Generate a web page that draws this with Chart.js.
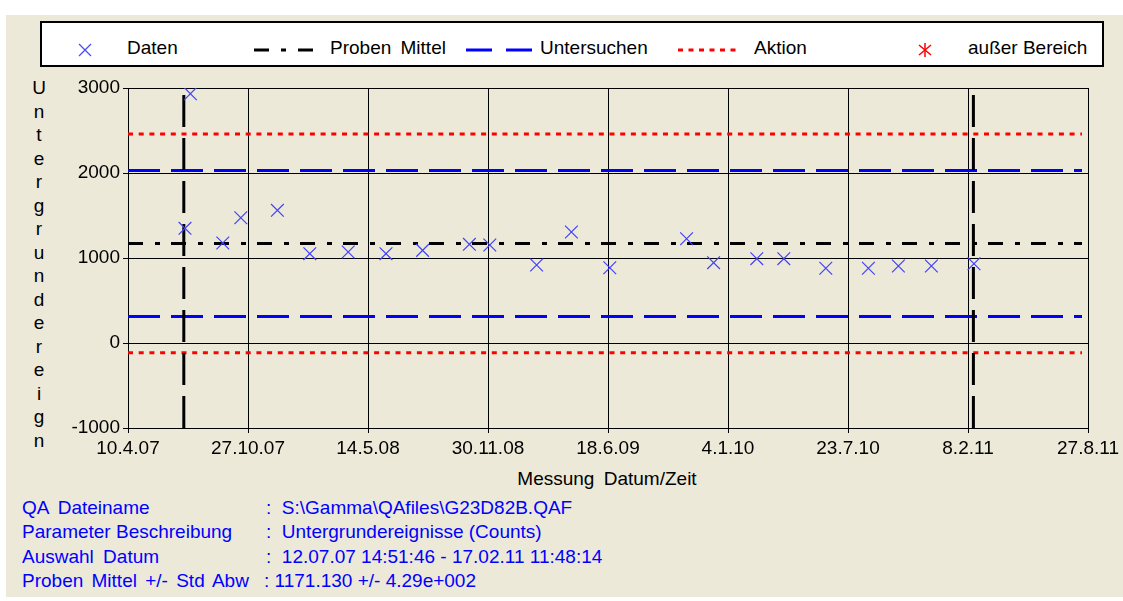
<!DOCTYPE html>
<html lang="de">
<head>
<meta charset="UTF-8">
<title>Untergrundereignisse</title>
<script src="https://cdn.jsdelivr.net/npm/chart.js"></script>
<style>
  body { margin: 0; background: #fff; font-family: "Liberation Sans", Arial, sans-serif; }
  #page { position: absolute; left: 6px; top: 15px; width: 1117px; height: 582px; background: #ece9d8; }
  #chart { position: absolute; left: 0; top: 0; }
  .txt { position: absolute; white-space: nowrap; color: #000; }
  #legend { position: absolute; left: 40px; top: 21px; width: 1060px; height: 42px; background: #fff; border: 2px solid #000; }
  #legend .txt { font-size: 19px; top: 14px; }
  #legend svg { position: absolute; left: 0; top: 0; }
  #ytitle { position: absolute; left: 28px; top: 76px; width: 22px; text-align: center; font-size: 19px; line-height: 23.5px; }
  #xtitle { font-size: 19px; left: 0; width: 1214px; text-align: center; top: 468px; word-spacing: 4px; }
  .info { position: absolute; left: 22px; font-size: 19px; color: #0000ff; white-space: nowrap; }
  .info span { display: inline-block; min-width: 244px; }
</style>
</head>
<body>
<div id="page"></div>

<div id="legend">
  <svg width="1064" height="46">
    <line x1="37" y1="21" x2="49" y2="33" stroke="#4a4aff" stroke-width="1.2"/>
    <line x1="49" y1="21" x2="37" y2="33" stroke="#4a4aff" stroke-width="1.2"/>
    <line x1="212" y1="27" x2="272" y2="27" stroke="#000" stroke-width="3" stroke-dasharray="15 12 5 12"/>
    <line x1="424" y1="27" x2="490" y2="27" stroke="#0000ff" stroke-width="3" stroke-dasharray="26 14"/>
    <line x1="636" y1="27" x2="698" y2="27" stroke="#ff0000" stroke-width="3" stroke-dasharray="5 5.5"/>
    <line x1="883" y1="20" x2="883" y2="34" stroke="#ff0000" stroke-width="1.5"/>
    <line x1="877" y1="22" x2="889" y2="32" stroke="#ff0000" stroke-width="1.5"/>
    <line x1="889" y1="22" x2="877" y2="32" stroke="#ff0000" stroke-width="1.5"/>
  </svg>
  <div class="txt" style="left:85px">Daten</div>
  <div class="txt" style="left:288px; word-spacing:4px">Proben Mittel</div>
  <div class="txt" style="left:498px">Untersuchen</div>
  <div class="txt" style="left:712px">Aktion</div>
  <div class="txt" style="left:926px">außer Bereich</div>
</div>

<div id="ytitle">U<br>n<br>t<br>e<br>r<br>g<br>r<br>u<br>n<br>d<br>e<br>r<br>e<br>i<br>g<br>n</div>
<div id="xtitle" class="txt">Messung Datum/Zeit</div>

<div class="info" style="top:497px"><span style="word-spacing:4px">QA Dateiname</span>: &nbsp;S:\Gamma\QAfiles\G23D82B.QAF</div>
<div class="info" style="top:521px"><span>Parameter Beschreibung</span>: &nbsp;Untergrundereignisse (Counts)</div>
<div class="info" style="top:546px"><span style="word-spacing:4px">Auswahl Datum</span>: &nbsp;12.07.07 14:51:46 - 17.02.11 11:48:14</div>
<div class="info" style="top:570px"><span style="min-width:242px; word-spacing:3px">Proben Mittel +/- Std Abw</span>: 1171.130 +/- 4.29e+002</div>

<canvas id="chart" width="1123" height="601"></canvas>

<script>
  // Achsenbeschriftung (Tage ab 10.4.07, alle 200 Tage)
  const tickLabels = ['10.4.07', '27.10.07', '14.5.08', '30.11.08', '18.6.09', '4.1.10', '23.7.10', '8.2.11', '27.8.11'];

  // Messungen: Tag ab 10.4.07 und Untergrundereignisse
  const messTage = [95, 104, 158, 188, 249, 303, 367, 430, 491, 569, 603, 681, 739, 803, 931, 976, 1048, 1093, 1163, 1234, 1284, 1339, 1410];
  const messWerte = [1349, 2933, 1176, 1474, 1561, 1051, 1071, 1051, 1090, 1161, 1153, 918, 1306, 886, 1227, 945, 992, 992, 879, 879, 906, 906, 933];

  // Grenzen
  const probenMittel = 1171.13;
  const untersuchen = [313, 2029];
  const aktion = [-116, 2458];
  const auswahlTage = [93, 1409];
  const linienEnde = 1590;

  const punkte = messTage.map((t, i) => ({ x: t, y: messWerte[i] }));

  function hLinie(y) {
    return [{ x: 0, y: y }, { x: linienEnde, y: y }];
  }
  function vLinie(x) {
    return [{ x: x, y: -1000 }, { x: x, y: 3000 }];
  }

  const linie = { showLine: true, pointRadius: 0, borderWidth: 3, fill: false, borderCapStyle: 'butt' };

  const datasets = [
    { label: 'Daten', data: punkte, pointStyle: 'crossRot', pointRadius: 9, borderColor: '#4040ff', borderWidth: 1.2, order: 0 },
    Object.assign({ label: 'Proben Mittel', data: hLinie(probenMittel), borderColor: '#000', borderDash: [15, 12, 5, 11], order: 2 }, linie)
  ];
  untersuchen.forEach(y => datasets.push(Object.assign({ label: 'Untersuchen', data: hLinie(y), borderColor: '#0000ff', borderDash: [32, 11], order: 3 }, linie)));
  aktion.forEach(y => datasets.push(Object.assign({ label: 'Aktion', data: hLinie(y), borderColor: '#ff0000', borderDash: [5, 5.7], order: 4 }, linie)));
  auswahlTage.forEach(x => datasets.push(Object.assign({ label: 'Auswahl', data: vLinie(x), borderColor: '#000', borderDash: [32, 11], order: 1 }, linie)));

  const schrift = { family: '"Liberation Sans", Arial, sans-serif', size: 19 };

  new Chart(document.getElementById('chart'), {
    type: 'scatter',
    data: { datasets: datasets },
    options: {
      responsive: false,
      animation: false,
      layout: { padding: { left: 0, top: 88, right: 35, bottom: 0 } },
      plugins: { legend: { display: false }, tooltip: { enabled: false } },
      scales: {
        x: {
          type: 'linear',
          min: 0,
          max: 1600,
          afterFit: s => { s.height = 173; },
          ticks: {
            stepSize: 200,
            autoSkip: false,
            maxRotation: 0,
            color: '#000',
            font: schrift,
            padding: 4,
            callback: (v, i) => tickLabels[i]
          },
          grid: { color: '#000', lineWidth: 1, tickLength: 5 },
          border: { color: '#000', width: 1 }
        },
        y: {
          min: -1000,
          max: 3000,
          afterFit: s => { s.width = 128; },
          ticks: {
            stepSize: 1000,
            color: '#000',
            font: schrift,
            padding: 3,
            callback: v => String(v)
          },
          grid: { color: '#000', lineWidth: 1, tickLength: 5 },
          border: { color: '#000', width: 1 }
        }
      }
    }
  });
</script>
</body>
</html>
